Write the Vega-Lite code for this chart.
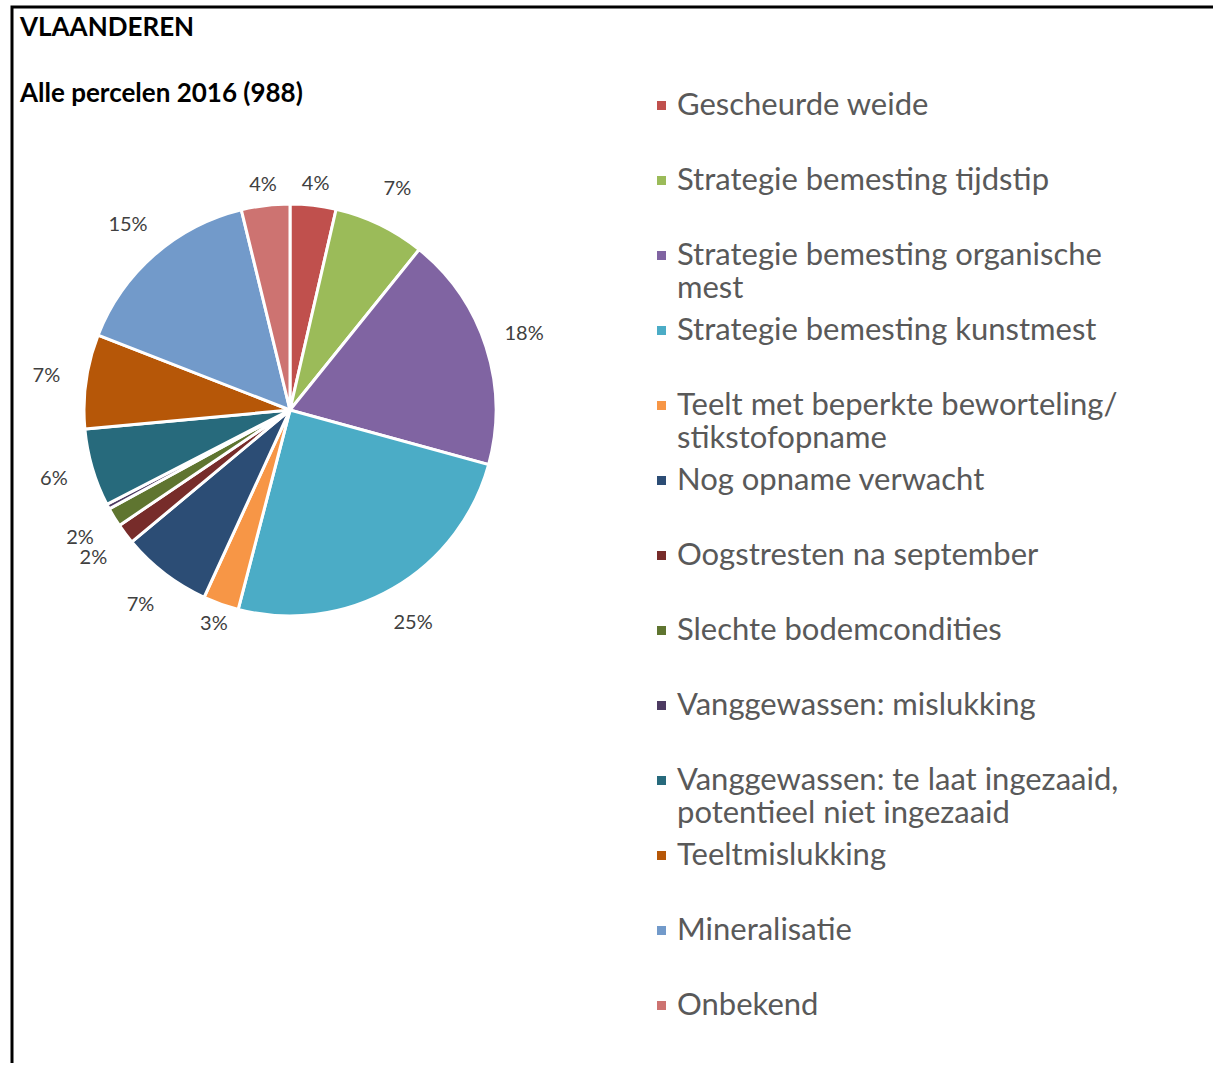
{
  "$schema": "https://vega.github.io/schema/vega-lite/v6.json",
  "padding": {"left": 10, "top": 5, "right": 0, "bottom": 0},
  "background": "white",
  "spacing": 0,
  "bounds": "flush",
  "columns": 2,
  "datasets": {
    "shares": [
      {"category": "Gescheurde weide", "value": 3.6, "label": "4%"},
      {"category": "Strategie bemesting tijdstip", "value": 7.2, "label": "7%"},
      {"category": "Strategie bemesting organische mest", "value": 18.5, "label": "18%"},
      {"category": "Strategie bemesting kunstmest", "value": 24.8, "label": "25%"},
      {"category": "Teelt met beperkte beworteling/ stikstofopname", "value": 2.8, "label": "3%"},
      {"category": "Nog opname verwacht", "value": 7.1, "label": "7%"},
      {"category": "Oogstresten na september", "value": 1.6, "label": "2%"},
      {"category": "Slechte bodemcondities", "value": 1.5, "label": "2%"},
      {"category": "Vanggewassen: mislukking", "value": 0.4, "label": ""},
      {"category": "Vanggewassen: te laat ingezaaid, potentieel niet ingezaaid", "value": 6.1, "label": "6%"},
      {"category": "Teeltmislukking", "value": 7.4, "label": "7%"},
      {"category": "Mineralisatie", "value": 15.3, "label": "15%"},
      {"category": "Onbekend", "value": 3.8, "label": "4%"}
    ],
    "empty": []
  },
  "concat": [
    {
      "width": 556,
      "height": 806,
      "view": {"stroke": "black", "strokeWidth": 3, "strokeDash": [556, 1362, 806]},
      "title": {
        "text": ["VLAANDEREN", "Alle percelen 2016 (988)"],
        "anchor": "start",
        "frame": "group",
        "orient": "top",
        "offset": -100,
        "dx": 8,
        "font": "Lato",
        "fontSize": 26,
        "fontWeight": "bold",
        "color": "#000000",
        "lineHeight": 66
      },
      "data": {"name": "shares"},
      "transform": [{"window": [{"op": "row_number", "as": "rank"}]}],
      "encoding": {
        "theta": {"field": "value", "type": "quantitative", "stack": true},
        "order": {"field": "rank", "type": "quantitative"}
      },
      "layer": [
        {
          "mark": {"type": "arc", "outerRadius": 206, "stroke": "white", "strokeWidth": 3},
          "encoding": {
            "color": {
              "field": "category",
              "type": "nominal",
              "sort": [
                "Gescheurde weide",
                "Strategie bemesting tijdstip",
                "Strategie bemesting organische mest",
                "Strategie bemesting kunstmest",
                "Teelt met beperkte beworteling/ stikstofopname",
                "Nog opname verwacht",
                "Oogstresten na september",
                "Slechte bodemcondities",
                "Vanggewassen: mislukking",
                "Vanggewassen: te laat ingezaaid, potentieel niet ingezaaid",
                "Teeltmislukking",
                "Mineralisatie",
                "Onbekend"
              ],
              "scale": {
                "range": ["#C0504D", "#9BBB59", "#8064A2", "#4BACC6", "#F79646", "#2C4D75", "#772C2A", "#5F7530", "#4D3B62", "#276A7C", "#B65708", "#729ACA", "#CD7371"]
              },
              "legend": {
                "orient": "none",
                "legendX": 634,
                "legendY": 83,
                "title": null,
                "padding": 0,
                "symbolType": "square",
                "symbolSize": 81,
                "symbolStrokeWidth": 0,
                "labelFont": "Lato",
                "labelFontSize": 31,
                "labelColor": "#595959",
                "labelLimit": 700,
                "labelOffset": 0,
                "labelBaseline": "middle",
                "gridAlign": "all",
                "rowPadding": 10,
                "labelExpr": "datum.label == 'Strategie bemesting organische mest' ? ['Strategie bemesting organische', 'mest'] : datum.label == 'Teelt met beperkte beworteling/ stikstofopname' ? ['Teelt met beperkte beworteling/', 'stikstofopname'] : datum.label == 'Vanggewassen: te laat ingezaaid, potentieel niet ingezaaid' ? ['Vanggewassen: te laat ingezaaid,', 'potentieel niet ingezaaid'] : datum.label"
              }
            }
          }
        },
        {
          "mark": {"type": "text", "radius": 227, "font": "Lato", "fontSize": 20, "fill": "#404040"},
          "encoding": {
            "text": {
              "condition": {"test": "indexof(['Gescheurde weide', 'Onbekend', 'Teelt met beperkte beworteling/ stikstofopname'], datum.category) >= 0", "field": "label"},
              "value": ""
            }
          }
        },
        {
          "mark": {"type": "text", "radius": 246, "font": "Lato", "fontSize": 20, "fill": "#404040"},
          "encoding": {
            "text": {
              "condition": {"test": "indexof(['Gescheurde weide', 'Onbekend', 'Teelt met beperkte beworteling/ stikstofopname'], datum.category) < 0", "field": "label"},
              "value": ""
            }
          }
        }
      ]
    },
    {
      "width": 645,
      "height": 806,
      "view": {"stroke": "black", "strokeWidth": 3, "strokeDash": [645, 2257]},
      "data": {"name": "empty"},
      "mark": "point"
    },
    {
      "width": 556,
      "height": 250,
      "view": {"stroke": "black", "strokeWidth": 3, "strokeDash": [0, 1362, 250]},
      "data": {"name": "empty"},
      "mark": "point"
    }
  ],
  "config": {
    "view": {"stroke": null}
  }
}
